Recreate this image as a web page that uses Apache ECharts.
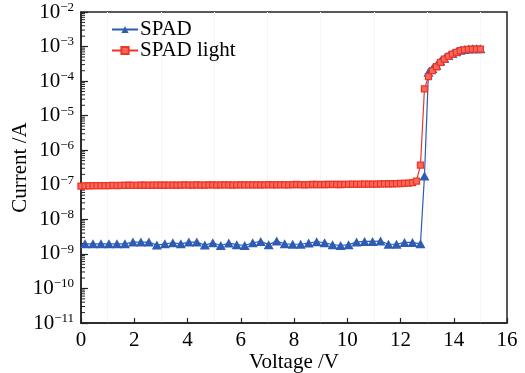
<!DOCTYPE html>
<html>
<head>
<meta charset="utf-8">
<script src="https://cdn.jsdelivr.net/npm/echarts@6/dist/echarts.min.js"></script>
<style>
  html, body { margin: 0; padding: 0; background: #fff; }
  #chart { width: 525px; height: 373px; }
</style>
</head>
<body>
<div id="chart"></div>
<script>
// Dark I-V sweep (SPAD) and illuminated sweep (SPAD light)
const spadVoltage = [
  0.15, 0.45, 0.75, 1.05, 1.35, 1.65, 1.95, 2.25, 2.55, 2.85,
  3.15, 3.45, 3.75, 4.05, 4.35, 4.65, 4.95, 5.25, 5.55, 5.85,
  6.15, 6.45, 6.75, 7.05, 7.35, 7.65, 7.95, 8.25, 8.55, 8.85,
  9.15, 9.45, 9.75, 10.05, 10.35, 10.65, 10.95, 11.25, 11.55, 11.85,
  12.15, 12.45, 12.75,
  12.9, 13.05, 13.2, 13.35, 13.5, 13.65, 13.8, 13.95, 14.1, 14.25,
  14.4, 14.55, 14.7, 14.85, 15.0
];
const spadCurrent = [
  1.95e-9, 1.95e-9, 1.95e-9, 1.95e-9, 1.95e-9, 1.95e-9, 2.2e-9, 2.2e-9, 2.2e-9, 1.8e-9,
  1.95e-9, 2.1e-9, 1.95e-9, 2.2e-9, 2.2e-9, 1.8e-9, 2.1e-9, 1.75e-9, 2.05e-9, 1.85e-9,
  1.75e-9, 2.1e-9, 2.3e-9, 1.85e-9, 2.35e-9, 1.95e-9, 1.9e-9, 1.9e-9, 2.05e-9, 2.25e-9,
  2.1e-9, 1.85e-9, 1.75e-9, 1.85e-9, 2.2e-9, 2.3e-9, 2.3e-9, 2.35e-9, 1.9e-9, 1.9e-9,
  2.15e-9, 2.15e-9, 1.95e-9,
  1.8e-7, 1.8e-4, 2.3e-4, 2.9e-4, 3.8e-4, 4.6e-4, 5.5e-4, 6.3e-4, 7.1e-4, 7.8e-4,
  8.2e-4, 8.5e-4, 8.6e-4, 8.6e-4, 8.6e-4
];

const lightVoltage = [
  0, 0.15, 0.3, 0.45, 0.6, 0.75, 0.9, 1.05, 1.2, 1.35,
  1.5, 1.65, 1.8, 1.95, 2.1, 2.25, 2.4, 2.55, 2.7, 2.85,
  3, 3.15, 3.3, 3.45, 3.6, 3.75, 3.9, 4.05, 4.2, 4.35,
  4.5, 4.65, 4.8, 4.95, 5.1, 5.25, 5.4, 5.55, 5.7, 5.85,
  6, 6.15, 6.3, 6.45, 6.6, 6.75, 6.9, 7.05, 7.2, 7.35,
  7.5, 7.65, 7.8, 7.95, 8.1, 8.25, 8.4, 8.55, 8.7, 8.85,
  9, 9.15, 9.3, 9.45, 9.6, 9.75, 9.9, 10.05, 10.2, 10.35,
  10.5, 10.65, 10.8, 10.95, 11.1, 11.25, 11.4, 11.55, 11.7, 11.85,
  12, 12.15, 12.3, 12.45, 12.6, 12.75, 12.9, 13.05, 13.2, 13.35,
  13.5, 13.65, 13.8, 13.95, 14.1, 14.25, 14.4, 14.55, 14.7, 14.85,
  15
];
const lightCurrent = [
  0.92e-7, 0.93e-7, 0.93e-7, 0.94e-7, 0.94e-7, 0.95e-7, 0.95e-7, 0.95e-7, 0.96e-7, 0.95e-7,
  0.96e-7, 0.96e-7, 0.97e-7, 0.96e-7, 0.96e-7, 0.97e-7, 0.97e-7, 0.96e-7, 0.97e-7, 0.98e-7,
  0.97e-7, 0.97e-7, 0.98e-7, 0.98e-7, 0.97e-7, 0.98e-7, 0.99e-7, 0.98e-7, 0.98e-7, 0.99e-7,
  0.98e-7, 0.98e-7, 0.99e-7, 0.99e-7, 0.98e-7, 0.99e-7, 1.00e-7, 0.99e-7, 0.98e-7, 0.99e-7,
  1.00e-7, 1.00e-7, 0.99e-7, 1.00e-7, 1.00e-7, 0.99e-7, 1.00e-7, 1.01e-7, 1.00e-7, 1.00e-7,
  1.01e-7, 1.00e-7, 1.00e-7, 1.01e-7, 1.02e-7, 1.01e-7, 1.00e-7, 1.01e-7, 1.02e-7, 1.02e-7,
  1.01e-7, 1.02e-7, 1.02e-7, 1.03e-7, 1.02e-7, 1.02e-7, 1.03e-7, 1.03e-7, 1.04e-7, 1.03e-7,
  1.04e-7, 1.04e-7, 1.05e-7, 1.05e-7, 1.05e-7, 1.06e-7, 1.06e-7, 1.07e-7, 1.07e-7, 1.08e-7,
  1.09e-7, 1.10e-7, 1.12e-7, 1.16e-7, 1.28e-7, 3.7e-7, 6.0e-5, 1.35e-4, 2.0e-4, 2.6e-4,
  3.5e-4, 4.3e-4, 5.2e-4, 6.0e-4, 6.8e-4, 7.6e-4, 8.0e-4, 8.3e-4, 8.4e-4, 8.4e-4,
  8.4e-4
];

// Axis ranges
const xTicks = [0, 2, 4, 6, 8, 10, 12, 14, 16];
const yDecadeMin = -11;
const yDecadeMax = -2;

// Minor log ticks (2..9 x 10^k) along the left axis
const minorTickValues = [];
for (let k = yDecadeMin; k < yDecadeMax; k++) {
  for (let m = 2; m <= 9; m++) minorTickValues.push([0, m * Math.pow(10, k)]);
}

const FONT = '"Liberation Serif", "Times New Roman", serif';
const AXIS_COLOR = '#222';
const TEXT_COLOR = '#000';
const BLUE = '#2e5cb2';
const RED = '#ee3526';

const zip = (xs, ys) => xs.map((x, i) => [x, ys[i]]);

const chart = echarts.init(document.getElementById('chart'), null, { renderer: 'canvas' });

chart.setOption({
  animation: false,
  backgroundColor: '#fff',
  grid: {
    left: 81, right: 18, top: 12, bottom: 50,
    outerBoundsMode: 'none',
    containLabel: false,
    show: true, borderColor: AXIS_COLOR, borderWidth: 1.5, backgroundColor: 'transparent'
  },
  legend: {
    orient: 'vertical',
    left: 106, top: 14,
    itemWidth: 26, itemHeight: 9, itemGap: 0,
    textStyle: { fontFamily: FONT, fontSize: 21, color: TEXT_COLOR, padding: [0, 0, 0, -3] },
    data: ['SPAD', 'SPAD light']
  },
  xAxis: {
    type: 'value',
    min: xTicks[0], max: xTicks[xTicks.length - 1], interval: 2,
    axisLine: { lineStyle: { color: AXIS_COLOR, width: 1.5 } },
    axisTick: { inside: true, length: 5, lineStyle: { color: AXIS_COLOR, width: 1.2 } },
    axisLabel: { fontFamily: FONT, fontSize: 21, color: TEXT_COLOR, margin: 7 },
    splitLine: { show: false },
    minorTick: { show: false, splitNumber: 2 },
    minorSplitLine: { show: true, lineStyle: { color: '#ececec', type: 'dotted', width: 1 } },
    name: 'Voltage /V',
    nameLocation: 'middle',
    nameGap: 29,
    nameMoveOverlap: false,
    nameTextStyle: { fontFamily: FONT, fontSize: 21, color: TEXT_COLOR }
  },
  yAxis: {
    type: 'log',
    logBase: 10,
    min: Math.pow(10, yDecadeMin), max: Math.pow(10, yDecadeMax),
    interval: 1,
    axisLine: { lineStyle: { color: AXIS_COLOR, width: 1.5 } },
    axisTick: { inside: true, length: 7, lineStyle: { color: AXIS_COLOR, width: 1.2 } },
    splitLine: { show: false },
    axisLabel: {
      margin: 7,
      formatter: function (v) {
        const e = Math.round(Math.log10(v));
        return '{b|10}{s|' + String(e).replace('-', '\u2212') + '}';
      },
      rich: {
        b: { fontFamily: FONT, fontSize: 21, color: TEXT_COLOR, lineHeight: 22 },
        s: { fontFamily: FONT, fontSize: 13, color: TEXT_COLOR, verticalAlign: 'top', lineHeight: 12 }
      }
    },
    name: 'Current /A',
    nameLocation: 'middle',
    nameGap: 50,
    nameMoveOverlap: false,
    nameTextStyle: { fontFamily: FONT, fontSize: 21, color: TEXT_COLOR }
  },
  series: [
    {
      type: 'custom',
      silent: true,
      clip: false,
      data: minorTickValues,
      renderItem: function (params, api) {
        const p = api.coord([api.value(0), api.value(1)]);
        return {
          type: 'line',
          shape: { x1: p[0], y1: p[1], x2: p[0] + 4, y2: p[1] },
          style: { stroke: AXIS_COLOR, lineWidth: 1 }
        };
      },
      z: 1
    },
    {
      name: 'SPAD',
      type: 'line',
      data: zip(spadVoltage, spadCurrent),
      symbol: 'triangle',
      symbolSize: [10, 9],
      lineStyle: { color: BLUE, width: 1.2 },
      itemStyle: { color: BLUE },
      z: 2
    },
    {
      name: 'SPAD light',
      type: 'line',
      data: zip(lightVoltage, lightCurrent),
      symbol: 'rect',
      symbolSize: 6,
      lineStyle: { color: RED, width: 1.2 },
      itemStyle: { color: '#f86a5c', borderColor: RED, borderWidth: 1.3 },
      z: 3
    }
  ]
});
</script>
</body>
</html>
